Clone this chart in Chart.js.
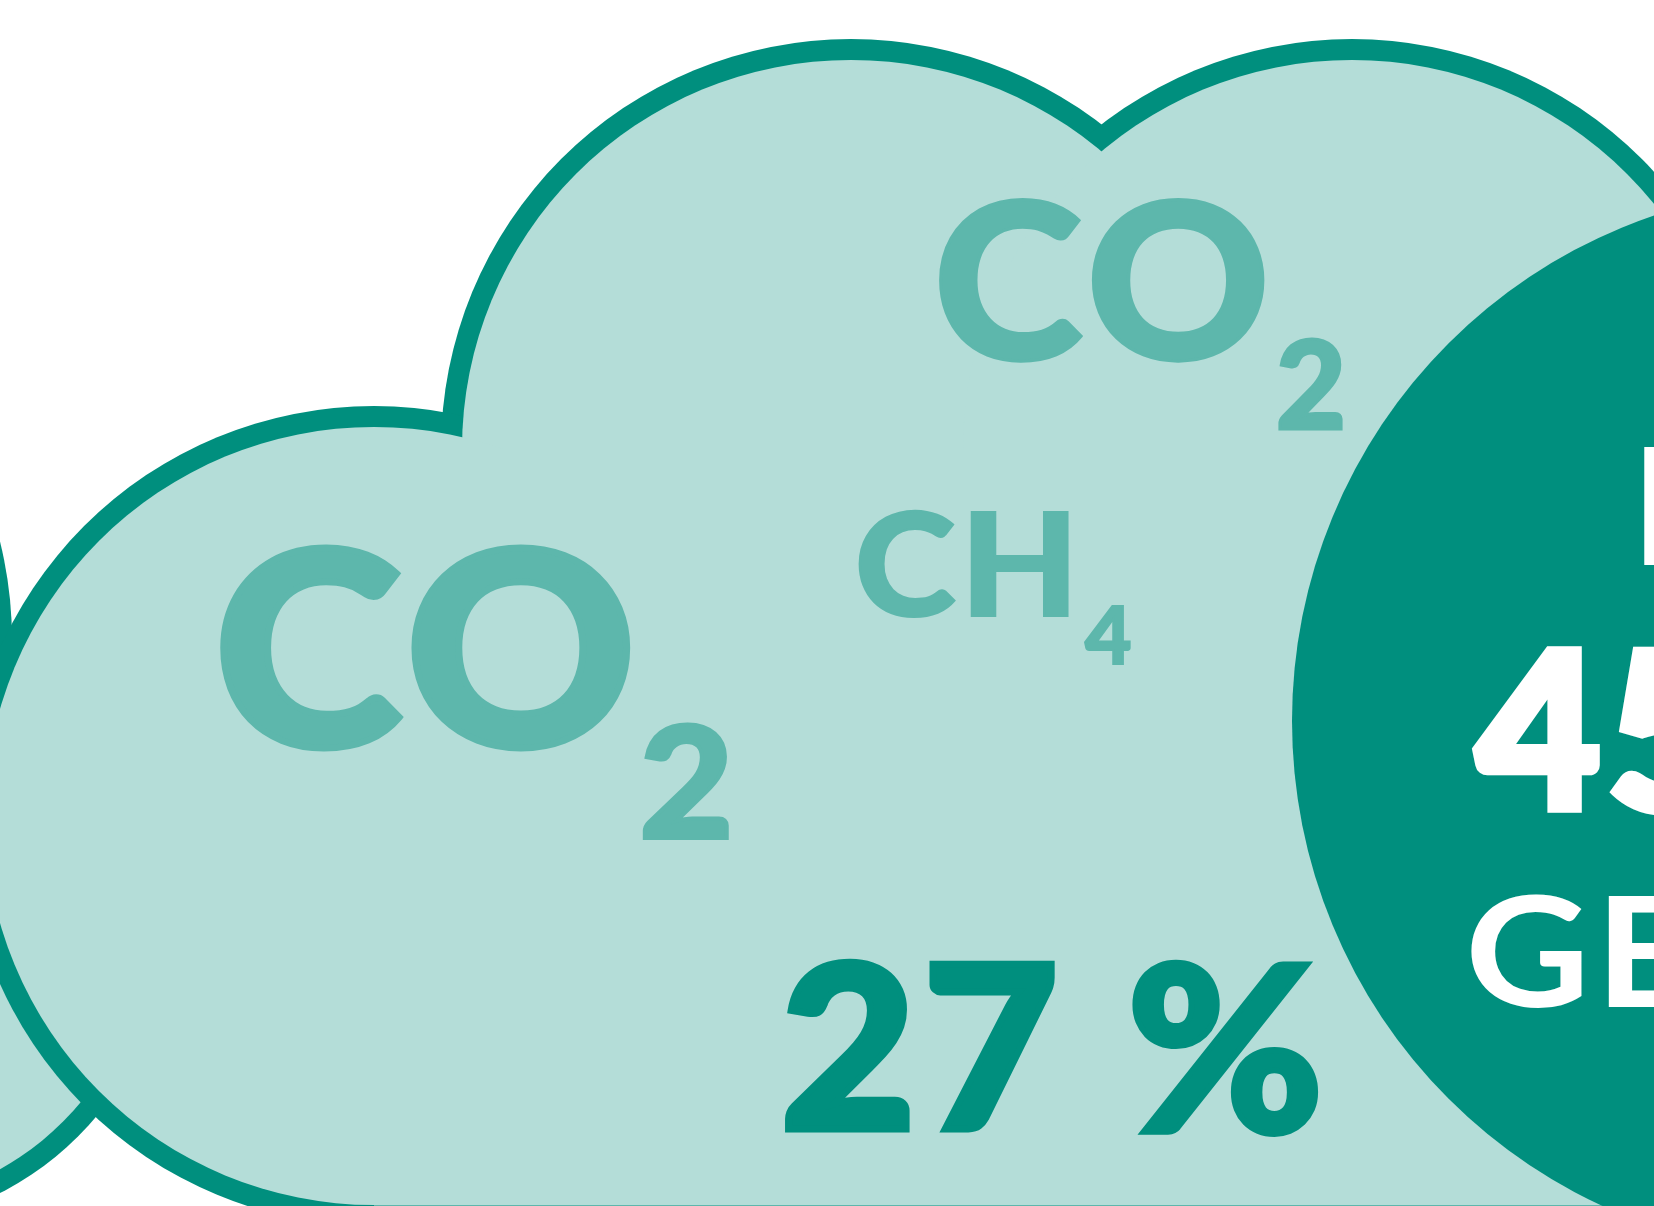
<!DOCTYPE html>
<html>
<head>
<meta charset="utf-8">
<title>CO2 cloud</title>
<style>
  html, body { margin: 0; padding: 0; background: #fff; overflow: hidden; }
  canvas { display: block; }
</style>
</head>
<body>
<canvas id="grafico" width="1654" height="1206"></canvas>
<script src="https://cdn.jsdelivr.net/npm/chart.js@4"></script>
<script>
// puffs of the cloud, in picture pixels
const nubeX = [851, 1352, 374];
const nubeY = [449, 449, 816];
const nubeR = [389, 389, 389];
const traseraX = [-398, -141];
const traseraY = [640, 917];
const traseraR = [389, 289];
const circuloX = [1826];
const circuloY = [721];
const circuloR = [534];
const baseX = [374, 1654];
const baseY = [1206, 1206];
const borde = 21;

const OSCURO = "#008f7e";
const CLARO = "#b4ddd8";
const MEDIO = "#5db7ac";

// texto: izquierda, derecha, arriba y abajo de cada palabra (g = engrosar el trazo)
const textos = [
  { t: "CO", x0: 219, x1: 631, y0: 544, y1: 752, w: 900, c: MEDIO, g: 5 },
  { t: "2", x0: 642, x1: 729, y0: 722, y1: 840, w: 900, c: MEDIO, g: 5 },
  { t: "CO", x0: 938, x1: 1265, y0: 198, y1: 363, w: 900, c: MEDIO, g: 3 },
  { t: "2", x0: 1278, x1: 1343, y0: 338, y1: 431, w: 900, c: MEDIO, g: 5 },
  { t: "CH", x0: 858, x1: 1069, y0: 510, y1: 619, w: 900, c: MEDIO, g: 3 },
  { t: "4", x0: 1084, x1: 1131, y0: 604, y1: 665, w: 900, c: MEDIO, g: 5 },
  { t: "27", x0: 784, x1: 1055, y0: 959, y1: 1132, w: 900, c: OSCURO, g: 6 },
  { t: "%", x0: 1132, x1: 1319, y0: 959, y1: 1137, w: 900, c: OSCURO, g: 5 },
  { t: "45", x0: 1472, x1: 1725, y0: 646, y1: 816, w: 900, c: "#fff", g: 8 },
  { t: "GE", x0: 1471, x1: 1688, y0: 895, y1: 1009, w: 700, c: "#fff", g: 0 },
  { t: "E", x0: 1644, x1: 1730, y0: 447, y1: 565, w: 900, c: "#fff", g: 0 },
];

function puntos(xs, ys, rs) {
  return xs.map((x, i) => ({ x: x, y: ys[i], r: rs[i] }));
}

function burbuja(datos, color, extra, orden) {
  return {
    type: "bubble",
    data: datos.map((p) => ({ x: p.x, y: p.y, r: p.r + extra })),
    backgroundColor: color,
    borderWidth: 0,
    hoverBorderWidth: 0,
    order: orden,
  };
}

const pluginTextos = {
  id: "textos",
  afterDatasetsDraw(chart) {
    const { ctx, scales } = chart;
    textos.forEach((l) => {
      ctx.save();
      ctx.font = `${l.w} 200px Lato`;
      ctx.letterSpacing = "6px";
      ctx.textBaseline = "alphabetic";
      ctx.textAlign = "left";
      ctx.fillStyle = l.c;
      ctx.strokeStyle = l.c;
      ctx.lineWidth = l.g;
      ctx.lineJoin = "miter";
      const m = ctx.measureText(l.t);
      const izq = scales.x.getPixelForValue(l.x0);
      const der = scales.x.getPixelForValue(l.x1);
      const arr = scales.y.getPixelForValue(l.y0);
      const aba = scales.y.getPixelForValue(l.y1);
      const sx = (der - izq) / (m.actualBoundingBoxLeft + m.actualBoundingBoxRight + l.g);
      const sy = (aba - arr) / (m.actualBoundingBoxAscent + m.actualBoundingBoxDescent + l.g);
      ctx.translate(izq + (m.actualBoundingBoxLeft + l.g / 2) * sx, arr + (m.actualBoundingBoxAscent + l.g / 2) * sy);
      ctx.scale(sx, sy);
      ctx.fillText(l.t, 0, 0);
      if (l.g > 0) ctx.strokeText(l.t, 0, 0);
      ctx.restore();
    });
  },
};

const trasera = puntos(traseraX, traseraY, traseraR);
const nube = puntos(nubeX, nubeY, nubeR);

new Chart(document.getElementById("grafico"), {
  data: {
    datasets: [
      burbuja(puntos(circuloX, circuloY, circuloR), OSCURO, 0, 1),
      {
        type: "line",
        data: baseX.map((x, i) => ({ x: x, y: baseY[i] })),
        borderColor: MEDIO,
        borderWidth: 2,
        pointRadius: 0,
        backgroundColor: CLARO,
        fill: { value: 449 },
        order: 2,
      },
      burbuja(nube, CLARO, 0, 3),
      burbuja(nube, OSCURO, borde, 4),
      burbuja(trasera, CLARO, 0, 5),
      burbuja(trasera, OSCURO, borde, 6),
    ],
  },
  options: {
    responsive: false,
    animation: false,
    events: [],
    layout: { padding: 0, autoPadding: false },
    plugins: { legend: { display: false }, tooltip: { enabled: false } },
    scales: {
      x: { type: "linear", display: false, min: 0, max: 1654 },
      y: { type: "linear", display: false, min: 0, max: 1206, reverse: true },
    },
  },
  plugins: [pluginTextos],
});
</script>
</body>
</html>
